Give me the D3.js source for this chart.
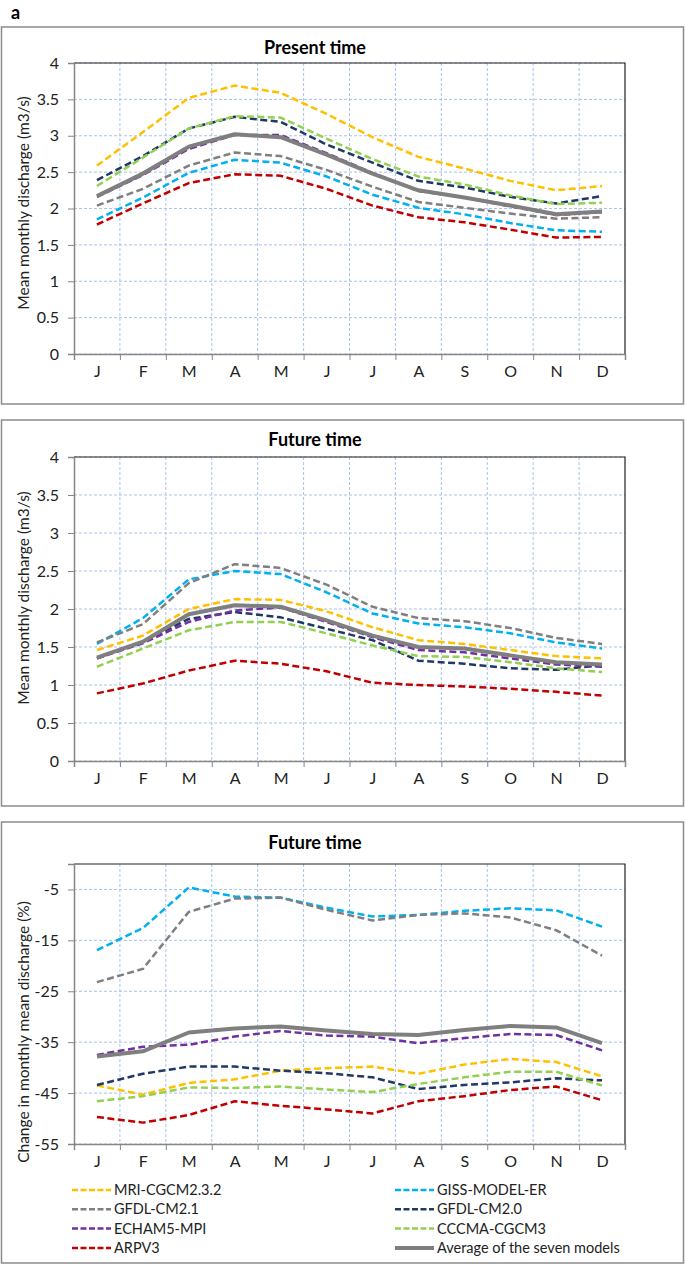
<!DOCTYPE html>
<html>
<head>
<meta charset="utf-8">
<script src="https://cdn.jsdelivr.net/npm/d3@7"></script>
<style>
  body { margin: 0; background: #fff; }
  svg text { font-family: Lato, "Open Sans", sans-serif; fill: #222; }
</style>
</head>
<body>
<svg id="chart" width="685" height="1265"></svg>
<script>
var months = ["J", "F", "M", "A", "M", "J", "J", "A", "S", "O", "N", "D"];

var models = ["MRI-CGCM2.3.2", "GISS-MODEL-ER", "GFDL-CM2.1", "GFDL-CM2.0",
              "ECHAM5-MPI", "CCCMA-CGCM3", "ARPV3", "Average of the seven models"];
var colors = ["#ffc000", "#00b0f0", "#7f7f7f", "#1f3864",
              "#7030a0", "#92d050", "#c00000", "#7f7f7f"];

// present time, mean monthly discharge (m3/s)
var presentMRI    = [2.59, 3.05, 3.52, 3.69, 3.59, 3.30, 2.98, 2.71, 2.55, 2.38, 2.25, 2.31];
var presentGISS   = [1.85, 2.15, 2.49, 2.67, 2.63, 2.44, 2.19, 2.01, 1.92, 1.80, 1.70, 1.68];
var presentGFDL21 = [2.04, 2.27, 2.59, 2.77, 2.72, 2.53, 2.30, 2.09, 2.01, 1.93, 1.86, 1.88];
var presentGFDL20 = [2.39, 2.72, 3.10, 3.26, 3.19, 2.88, 2.63, 2.38, 2.29, 2.16, 2.07, 2.17];
var presentECHAM  = [2.16, 2.46, 2.82, 3.01, 3.01, 2.76, 2.49, 2.24, 2.15, 2.03, 1.91, 1.95];
var presentCCCMA  = [2.31, 2.70, 3.10, 3.27, 3.25, 2.96, 2.68, 2.44, 2.33, 2.18, 2.06, 2.08];
var presentARPV3  = [1.78, 2.07, 2.35, 2.47, 2.45, 2.27, 2.04, 1.88, 1.81, 1.71, 1.60, 1.61];
var presentAvg    = [2.17, 2.48, 2.85, 3.02, 2.98, 2.74, 2.48, 2.25, 2.15, 2.04, 1.92, 1.96];

// future time, mean monthly discharge (m3/s)
var futureMRI    = [1.46, 1.65, 2.00, 2.13, 2.12, 1.97, 1.76, 1.59, 1.54, 1.46, 1.38, 1.35];
var futureGISS   = [1.54, 1.88, 2.39, 2.50, 2.46, 2.22, 1.94, 1.81, 1.76, 1.68, 1.56, 1.48];
var futureGFDL21 = [1.56, 1.80, 2.34, 2.59, 2.54, 2.32, 2.03, 1.88, 1.84, 1.75, 1.62, 1.54];
var futureGFDL20 = [1.35, 1.57, 1.87, 1.96, 1.89, 1.74, 1.59, 1.32, 1.28, 1.22, 1.20, 1.26];
var futureECHAM  = [1.35, 1.55, 1.83, 1.98, 2.02, 1.83, 1.63, 1.46, 1.43, 1.35, 1.27, 1.24];
var futureCCCMA  = [1.24, 1.48, 1.72, 1.83, 1.83, 1.68, 1.52, 1.38, 1.37, 1.30, 1.22, 1.17];
var futureARPV3  = [0.89, 1.02, 1.19, 1.32, 1.28, 1.18, 1.03, 1.00, 0.98, 0.95, 0.91, 0.86];
var futureAvg    = [1.36, 1.57, 1.93, 2.05, 2.03, 1.85, 1.65, 1.50, 1.48, 1.39, 1.30, 1.27];

// change in monthly mean discharge (%)
var changeMRI    = [-43.5, -45.3, -43.0, -42.3, -40.6, -40.1, -39.8, -41.2, -39.4, -38.3, -38.9, -41.7];
var changeGISS   = [-16.9, -12.6, -4.6, -6.4, -6.6, -8.6, -10.3, -10.0, -9.2, -8.7, -9.1, -12.3];
var changeGFDL21 = [-23.2, -20.6, -9.4, -6.8, -6.6, -9.0, -11.1, -10.0, -9.7, -10.5, -13.0, -18.0];
var changeGFDL20 = [-43.4, -41.2, -39.8, -39.8, -40.6, -41.1, -41.9, -44.2, -43.4, -42.9, -42.1, -42.5];
var changeECHAM  = [-37.5, -35.9, -35.5, -33.9, -32.8, -33.7, -33.9, -35.2, -34.2, -33.4, -33.6, -36.6];
var changeCCCMA  = [-46.6, -45.6, -43.9, -44.0, -43.7, -44.3, -44.8, -43.2, -41.9, -40.8, -40.8, -43.5];
var changeARPV3  = [-49.7, -50.8, -49.3, -46.6, -47.5, -48.2, -49.0, -46.6, -45.6, -44.4, -43.7, -46.4];
var changeAvg    = [-37.8, -36.8, -33.1, -32.3, -31.9, -32.7, -33.4, -33.6, -32.6, -31.8, -32.1, -35.2];

var dischargeTicks = [0, 0.5, 1, 1.5, 2, 2.5, 3, 3.5, 4];
var changeTicks = [-55, -45, -35, -25, -15, -5];

var svg = d3.select("#chart");

svg.append("text")
    .attr("x", 11)
    .attr("y", 19)
    .style("font-size", "18px")
    .style("font-weight", "bold")
    .style("fill", "#000")
    .text("a");

var plotLeft = 74,
    plotRight = 625;

var x = d3.scaleLinear()
    .domain([0, 12])
    .range([plotLeft, plotRight]);

function drawPanel(p) {
    var g = svg.append("g");

    g.append("rect")
        .attr("x", 1.5)
        .attr("y", p.boxTop)
        .attr("width", 682)
        .attr("height", p.boxBottom - p.boxTop)
        .attr("fill", "#fff")
        .attr("stroke", "#8c8c8c")
        .attr("stroke-width", 1.5);

    var y = d3.scaleLinear()
        .domain(p.domain)
        .range([p.bottom, p.top]);

    g.append("text")
        .attr("x", 315)
        .attr("y", p.titleY)
        .attr("text-anchor", "middle")
        .style("font-size", "18px")
        .style("font-weight", "bold")
        .style("fill", "#000")
        .text(p.title);

    // grid
    g.append("g").selectAll("line")
        .data(p.ticks)
        .enter().append("line")
        .attr("x1", plotLeft)
        .attr("x2", plotRight)
        .attr("y1", function(d) { return y(d); })
        .attr("y2", function(d) { return y(d); })
        .attr("stroke", "#a8c2ec")
        .attr("stroke-dasharray", "3,2");

    g.append("g").selectAll("line")
        .data(d3.range(1, 12))
        .enter().append("line")
        .attr("x1", function(d) { return x(d); })
        .attr("x2", function(d) { return x(d); })
        .attr("y1", p.top)
        .attr("y2", p.bottom)
        .attr("stroke", "#a8c2ec")
        .attr("stroke-dasharray", "3,2");

    // plot area outline (top and right)
    g.append("path")
        .attr("d", "M" + plotLeft + "," + p.top + "H" + plotRight + "V" + p.bottom)
        .attr("fill", "none")
        .attr("stroke", "#222")
        .attr("stroke-width", 1.2);

    // y axis
    var yAxis = g.append("g")
        .attr("transform", "translate(" + plotLeft + ",0)")
        .call(d3.axisLeft(y).tickValues(p.ticks).tickSize(6).tickPadding(9)
            .tickFormat(function(d) { return d; }));
    yAxis.select(".domain").attr("stroke", "#868686").attr("stroke-width", 1.5);
    yAxis.selectAll(".tick line").attr("stroke", "#868686");
    yAxis.selectAll(".tick text")
        .style("font-size", "16px")
        .style("font-family", "Lato, sans-serif")
        .style("fill", "#222");

    // x axis: ticks between months, labels in the middle
    var xAxis = g.append("g")
        .attr("transform", "translate(0," + p.bottom + ")")
        .call(d3.axisBottom(x).tickValues(d3.range(13)).tickSize(6).tickFormat(""));
    xAxis.select(".domain").attr("stroke", "#868686").attr("stroke-width", 1.5);
    xAxis.selectAll(".tick line").attr("stroke", "#868686");

    var xLabels = g.append("g")
        .attr("transform", "translate(0," + p.bottom + ")")
        .call(d3.axisBottom(x).tickValues(d3.range(12).map(function(i) { return i + 0.5; }))
            .tickSize(0).tickPadding(12)
            .tickFormat(function(d) { return months[Math.floor(d)]; }));
    xLabels.select(".domain").remove();
    xLabels.selectAll(".tick text")
        .style("font-size", "16px")
        .style("font-family", "Lato, sans-serif")
        .style("fill", "#222");

    g.append("text")
        .attr("transform", "translate(" + 24 + "," + p.labelY + ") rotate(-90)")
        .attr("text-anchor", "middle")
        .attr("dy", "0.35em")
        .style("font-size", "15.5px")
        .text(p.yLabel);

    var line = d3.line()
        .x(function(d, i) { return x(i + 0.5); })
        .y(function(d) { return y(d); });

    p.series.forEach(function(s, k) {
        var avg = k === 7;
        g.append("path")
            .datum(s)
            .attr("d", line)
            .attr("fill", "none")
            .attr("stroke", colors[k])
            .attr("stroke-width", avg ? 4 : 2.5)
            .attr("stroke-dasharray", avg ? null : "7,3.5")
            .attr("stroke-linejoin", "round");
    });
    return g;
}

drawPanel({
    boxTop: 27, boxBottom: 404, top: 63, bottom: 354,
    titleY: 54, title: "Present time", labelY: 203,
    yLabel: "Mean monthly discharge (m3/s)",
    domain: [0, 4], ticks: dischargeTicks,
    series: [presentMRI, presentGISS, presentGFDL21, presentGFDL20,
             presentECHAM, presentCCCMA, presentARPV3, presentAvg]
});

drawPanel({
    boxTop: 420, boxBottom: 806, top: 457, bottom: 761,
    titleY: 446, title: "Future time", labelY: 598,
    yLabel: "Mean monthly discharge (m3/s)",
    domain: [0, 4], ticks: dischargeTicks,
    series: [futureMRI, futureGISS, futureGFDL21, futureGFDL20,
             futureECHAM, futureCCCMA, futureARPV3, futureAvg]
});

var bottomPanel = drawPanel({
    boxTop: 822, boxBottom: 1263, top: 864, bottom: 1144,
    titleY: 849, title: "Future time", labelY: 1032,
    yLabel: "Change in monthly mean discharge (%)",
    domain: [-55, 0], ticks: changeTicks,
    series: [changeMRI, changeGISS, changeGFDL21, changeGFDL20,
             changeECHAM, changeCCCMA, changeARPV3, changeAvg]
});

// legend, two columns
var legend = bottomPanel.append("g")
    .selectAll("g")
    .data(models)
    .enter().append("g")
    .attr("transform", function(d, i) {
        return "translate(" + (i % 2 === 0 ? 72 : 395) + "," + (1190 + Math.floor(i / 2) * 19.3) + ")";
    });

legend.append("line")
    .attr("x1", 0)
    .attr("x2", 39)
    .attr("stroke", function(d, i) { return colors[i]; })
    .attr("stroke-width", function(d, i) { return i === 7 ? 4 : 2.5; })
    .attr("stroke-dasharray", function(d, i) { return i === 7 ? null : "6,2.5"; });

legend.append("text")
    .attr("x", 42)
    .attr("dy", "0.35em")
    .style("font-size", "14.5px")
    .text(function(d) { return d; });
</script>
</body>
</html>
